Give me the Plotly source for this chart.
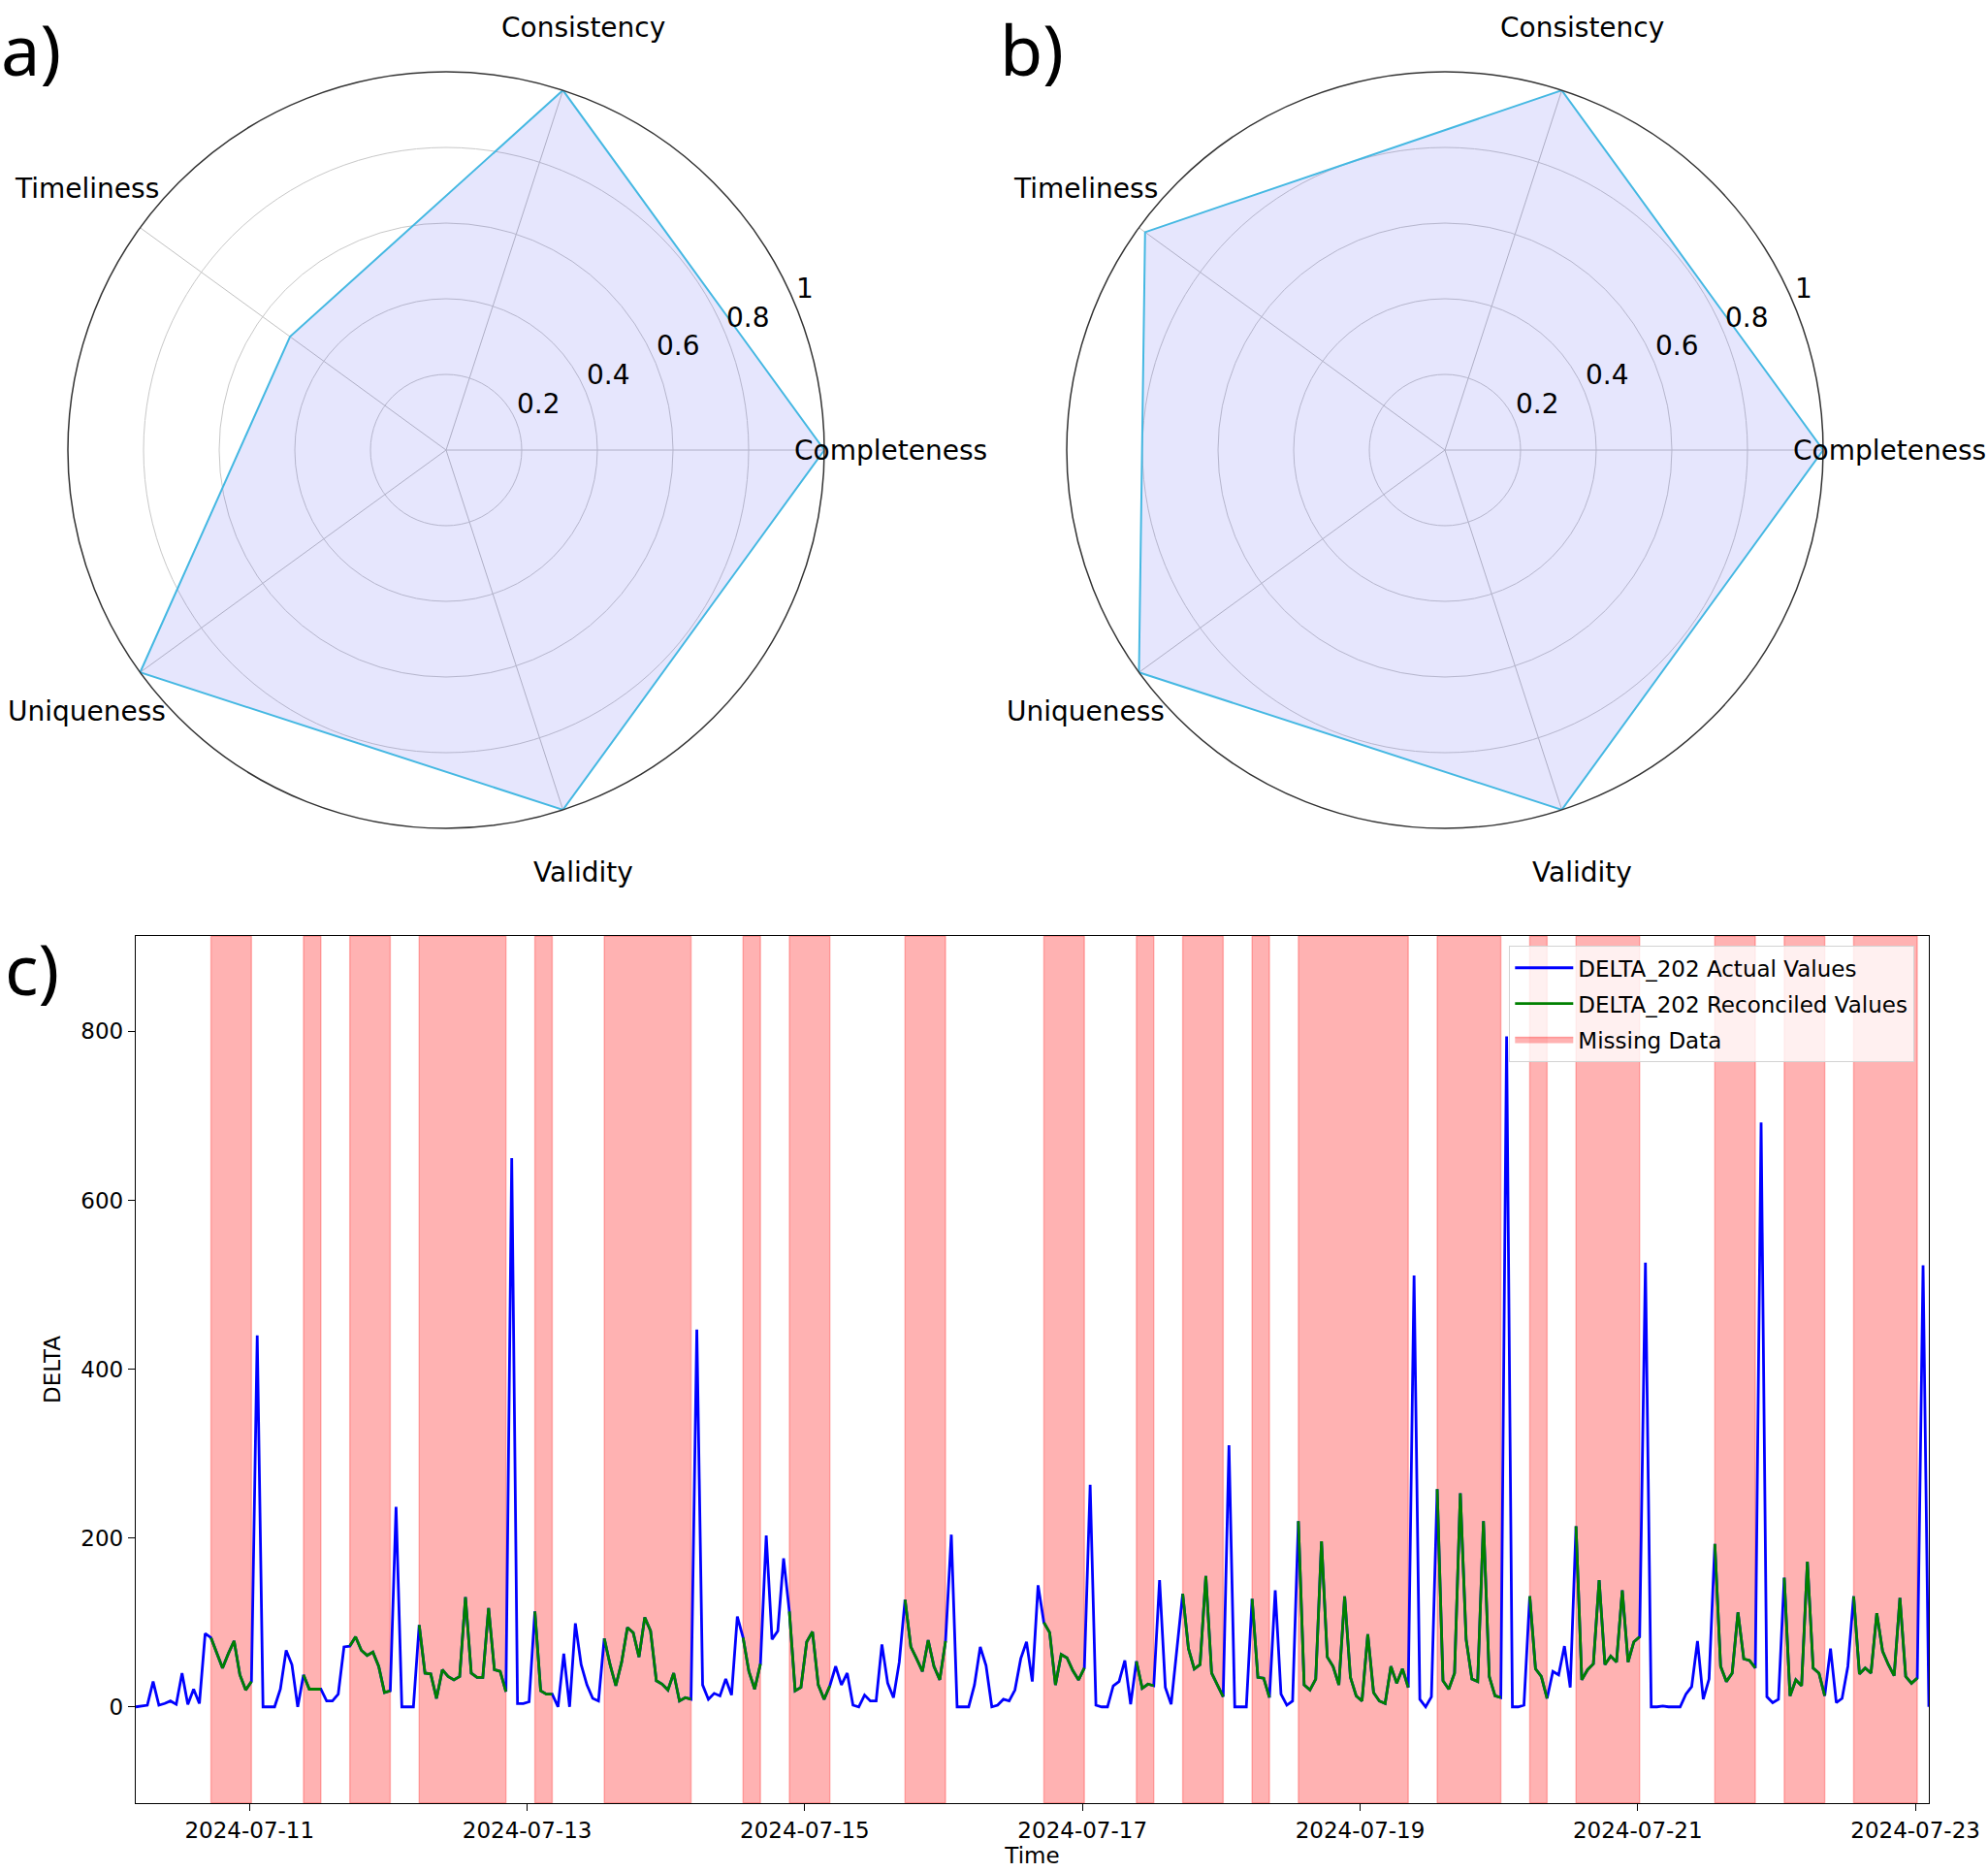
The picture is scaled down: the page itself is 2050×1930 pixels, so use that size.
import numpy as np
import pandas as pd
import plotly.graph_objects as go

# radar panels a) and b)
categories = ["Completeness", "Consistency", "Timeliness", "Uniqueness", "Validity"]
scores_a = [1.0, 1.0, 0.51, 1.0, 1.0]
scores_b = [1.0, 1.0, 0.98, 1.0, 1.0]
radial_ticks = [0.2, 0.4, 0.6, 0.8, 1.0]
radial_ticktext = ["0.2", "0.4", "0.6", "0.8", "1"]

# panel c) hourly DELTA_202 series
start_time = "2024-07-10 04:20"
delta_values = [
    0, 1, 2, 30, 2, 4, 7, 3, 40, 3, 21, 4, 87, 82, 64, 46, 63, 78, 38, 20,
    30, 440, 0, 0, 0, 21, 67, 50, 0, 38, 21, 21, 21, 7, 7, 15, 71, 72, 83, 67,
    61, 65, 48, 17, 19, 237, 0, 0, 0, 97, 40, 39, 10, 44, 36, 32, 36, 130, 40, 35,
    35, 117, 44, 42, 18, 650, 4, 4, 6, 113, 19, 15, 15, 0, 63, 0, 99, 50, 26, 10,
    7, 81, 50, 25, 53, 94, 88, 59, 106, 90, 31, 27, 20, 40, 7, 11, 9, 447, 26, 9,
    16, 13, 33, 14, 107, 82, 42, 21, 51, 203, 80, 90, 176, 113, 19, 23, 77, 89, 26, 9,
    25, 48, 26, 40, 2, 0, 14, 7, 7, 74, 28, 11, 53, 127, 71, 57, 42, 79, 48, 32,
    78, 204, 0, 0, 0, 26, 71, 49, 0, 2, 9, 7, 20, 57, 77, 30, 144, 100, 88, 26,
    62, 58, 43, 32, 46, 263, 2, 0, 0, 25, 30, 55, 3, 54, 22, 27, 25, 150, 23, 3,
    67, 134, 69, 45, 50, 155, 40, 26, 12, 310, 0, 0, 0, 128, 35, 34, 11, 138, 15, 2,
    7, 220, 26, 20, 33, 196, 59, 48, 26, 131, 35, 13, 7, 86, 17, 7, 4, 48, 28, 45,
    23, 511, 9, 0, 12, 258, 31, 21, 40, 253, 80, 33, 30, 220, 36, 13, 11, 794, 0, 0,
    2, 131, 45, 36, 10, 42, 38, 72, 23, 214, 32, 44, 51, 150, 50, 60, 53, 138, 53, 77,
    83, 526, 0, 0, 1, 0, 0, 0, 15, 24, 78, 9, 33, 193, 48, 30, 40, 112, 57, 55,
    46, 692, 12, 5, 9, 153, 13, 32, 25, 172, 46, 40, 13, 69, 5, 10, 48, 131, 39, 46,
    40, 111, 66, 50, 37, 129, 36, 28, 34, 523, 0,
]
# (first, last) hour index of each missing block
missing_spans = [
    (13, 20), (29, 32), (37, 44), (49, 64), (69, 72), (81, 96), (105, 108),
    (113, 120), (133, 140), (157, 164), (173, 176), (181, 188), (193, 196),
    (201, 220), (225, 236), (241, 244), (249, 260), (273, 280), (285, 292),
    (297, 308),
]
date_ticks = ["2024-07-11", "2024-07-13", "2024-07-15", "2024-07-17",
              "2024-07-19", "2024-07-21", "2024-07-23"]

W, H = 2050, 1930
times = pd.date_range(start_time, periods=len(delta_values), freq="h")
reconciled = [None] * len(delta_values)
for s, e in missing_spans:
    for k in range(s, e + 1):
        reconciled[k] = delta_values[k]

fig = go.Figure()

# radar layout (pixel centres and radius)
R = 390
centres = [(460, 464), (1490, 464)]


def polar_domain(cx, cy):
    return dict(x=[(cx - R) / W, (cx + R) / W],
                y=[1 - (cy + R) / H, 1 - (cy - R) / H])


for n, (scores, (cx, cy)) in enumerate(zip([scores_a, scores_b], centres)):
    pname = "polar" if n == 0 else "polar2"
    fig.add_trace(go.Scatterpolar(
        r=scores + scores[:1], theta=categories + categories[:1],
        mode="lines", fill="toself", fillcolor="rgba(60,60,240,0.13)",
        line=dict(color="#45b8e2", width=2), subplot=pname, showlegend=False,
        hoverinfo="skip",
    ))
    fig.update_layout(**{pname: dict(
        domain=polar_domain(cx, cy),
        bgcolor="white",
        radialaxis=dict(range=[0, 1], tickvals=radial_ticks, showticklabels=False,
                        angle=22.5, showline=False, ticks="",
                        gridcolor="#c8c8c8", gridwidth=1.3),
        angularaxis=dict(type="category", rotation=0, direction="counterclockwise",
                         showticklabels=False, ticks="", gridcolor="#c0c0c0",
                         gridwidth=1.3, showline=True, linecolor="#333333",
                         linewidth=1.5),
    )})
    # category labels, matplotlib style (straddling the rim)
    for k, cat in enumerate(categories):
        th = np.deg2rad(72 * k)
        fig.add_annotation(
            x=(cx + 458 * np.cos(th)) / W, y=1 - (cy - 458 * np.sin(th)) / H,
            xref="paper", yref="paper", text=cat, showarrow=False,
            font=dict(size=28, color="black"), xanchor="center", yanchor="middle",
        )
    # radial tick labels along the 22.5 degree ray
    ra = np.deg2rad(22.5)
    for v, txt in zip(radial_ticks, radial_ticktext):
        fig.add_annotation(
            x=(cx + v * R * np.cos(ra)) / W, y=1 - (cy - v * R * np.sin(ra)) / H,
            xref="paper", yref="paper", text=txt, showarrow=False,
            font=dict(size=28, color="black"), xanchor="left", yanchor="bottom",
            borderpad=0,
        )

# time series panel c)
fig.add_trace(go.Scatter(
    x=times, y=delta_values, mode="lines", name="DELTA_202 Actual Values",
    line=dict(color="blue", width=2.8), legendgroup="a",
))
fig.add_trace(go.Scatter(
    x=times, y=reconciled, mode="lines", name="DELTA_202 Reconciled Values",
    line=dict(color="green", width=2.8), connectgaps=False, legendgroup="b",
))
fig.add_trace(go.Scatter(
    x=[None], y=[None], mode="lines", fill="toself", name="Missing Data",
    fillcolor="rgba(255,0,0,0.3)", line=dict(color="rgba(255,0,0,0.3)", width=1.5),
    legendgroup="c",
))
for s, e in missing_spans:
    fig.add_vrect(
        x0=times[s], x1=times[e], fillcolor="rgba(255,0,0,0.3)",
        line=dict(color="rgba(255,0,0,0.25)", width=1.5), layer="below",
    )

fig.update_xaxes(
    domain=[140 / W, 1989 / W], range=[times[0], times[-1]], automargin=False,
    tickvals=pd.to_datetime(date_ticks), ticktext=date_ticks,
    showgrid=False, zeroline=False, showline=True, mirror=True,
    linecolor="black", linewidth=1.3, ticks="outside", ticklen=7,
    tickcolor="black", tickfont=dict(size=23),
    title=dict(text="Time", font=dict(size=23), standoff=4),
)
fig.update_yaxes(
    domain=[1 - 1859 / H, 1 - 965 / H], range=[-114, 913], automargin=False,
    tickvals=[0, 200, 400, 600, 800], showgrid=False, zeroline=False,
    showline=True, mirror=True, linecolor="black", linewidth=1.3,
    ticks="outside", ticklen=7, tickcolor="black", tickfont=dict(size=23),
    title=dict(text="DELTA", font=dict(size=23), standoff=14),
)

# panel letters
for txt, x, y in [("a)", 0, 0), ("b)", 1030, 0), ("c)", 4, 948)]:
    fig.add_annotation(x=x / W, y=1 - y / H, xref="paper", yref="paper", text=txt,
                       showarrow=False, xanchor="left", yanchor="top", borderpad=0,
                       font=dict(size=72, family="Noto Sans", color="black"))

fig.update_layout(
    width=W, height=H, autosize=False, margin=dict(l=0, r=0, t=0, b=0, autoexpand=False),
    paper_bgcolor="white", plot_bgcolor="white",
    font=dict(family="DejaVu Sans", color="black"),
    legend=dict(x=1556 / W, y=1 - 975 / H, xanchor="left", yanchor="top",
                bgcolor="rgba(255,255,255,0.8)", bordercolor="#d3d3d3",
                borderwidth=1.3, font=dict(size=23), itemwidth=60,
                tracegroupgap=4),
)

fig.write_html("out.html", config={"responsive": False, "displayModeBar": False},
               post_script="document.body.style.margin='0';document.body.style.overflow='hidden';")
